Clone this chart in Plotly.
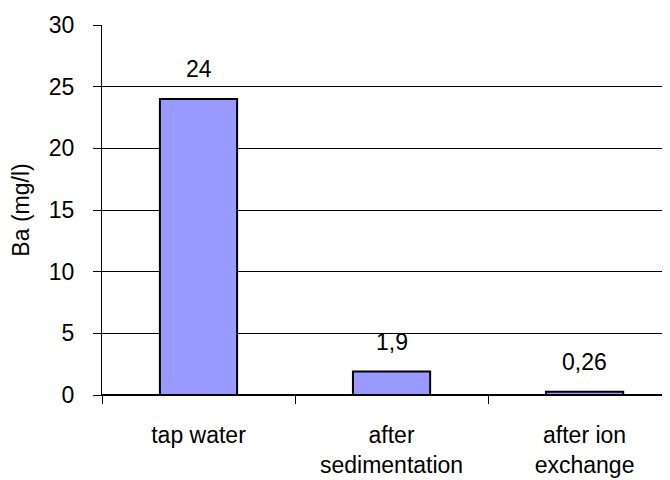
import plotly.graph_objects as go

categories = ["tap water", "after<br>sedimentation", "after ion<br>exchange"]
values = [24, 1.9, 0.26]
value_labels = ["24", "1,9", "0,26"]
y_ticks = [0, 5, 10, 15, 20, 25, 30]

FONT = "Liberation Sans, Arial, sans-serif"
FS = 23

fig = go.Figure()
fig.add_trace(go.Bar(
    x=categories, y=values, width=0.4,
    marker=dict(color="#9999FF", line=dict(color="black", width=2)),
    hoverinfo="skip",
))

for c, v, t in zip(categories, values, value_labels):
    fig.add_annotation(x=c, y=v, text=t, showarrow=False, yanchor="bottom",
                       yshift=15, font=dict(family=FONT, size=FS, color="black"))

fig.update_layout(
    width=670, height=480,
    margin=dict(l=94, r=0, t=17, b=93),
    paper_bgcolor="white", plot_bgcolor="white",
    showlegend=False,
    font=dict(family=FONT, size=FS, color="black"),
)
fig.update_xaxes(
    range=[-0.5, 2.484],
    showline=True, linecolor="black", linewidth=1,
    ticks="outside", tickson="boundaries", ticklen=8, tickcolor="black",
    ticklabelstandoff=19,
    showgrid=False,
)
fig.update_yaxes(
    range=[0, 30], tickvals=y_ticks,
    showline=True, linecolor="black", linewidth=1,
    ticks="outside", ticklen=8, tickcolor="black",
    ticklabelstandoff=14,
    showgrid=True, gridcolor="black", gridwidth=1,
    zeroline=True, zerolinecolor="black",
    title=dict(text="Ba (mg/l)", standoff=16, font=dict(family=FONT, size=FS)),
)

fig.write_html("out.html")
